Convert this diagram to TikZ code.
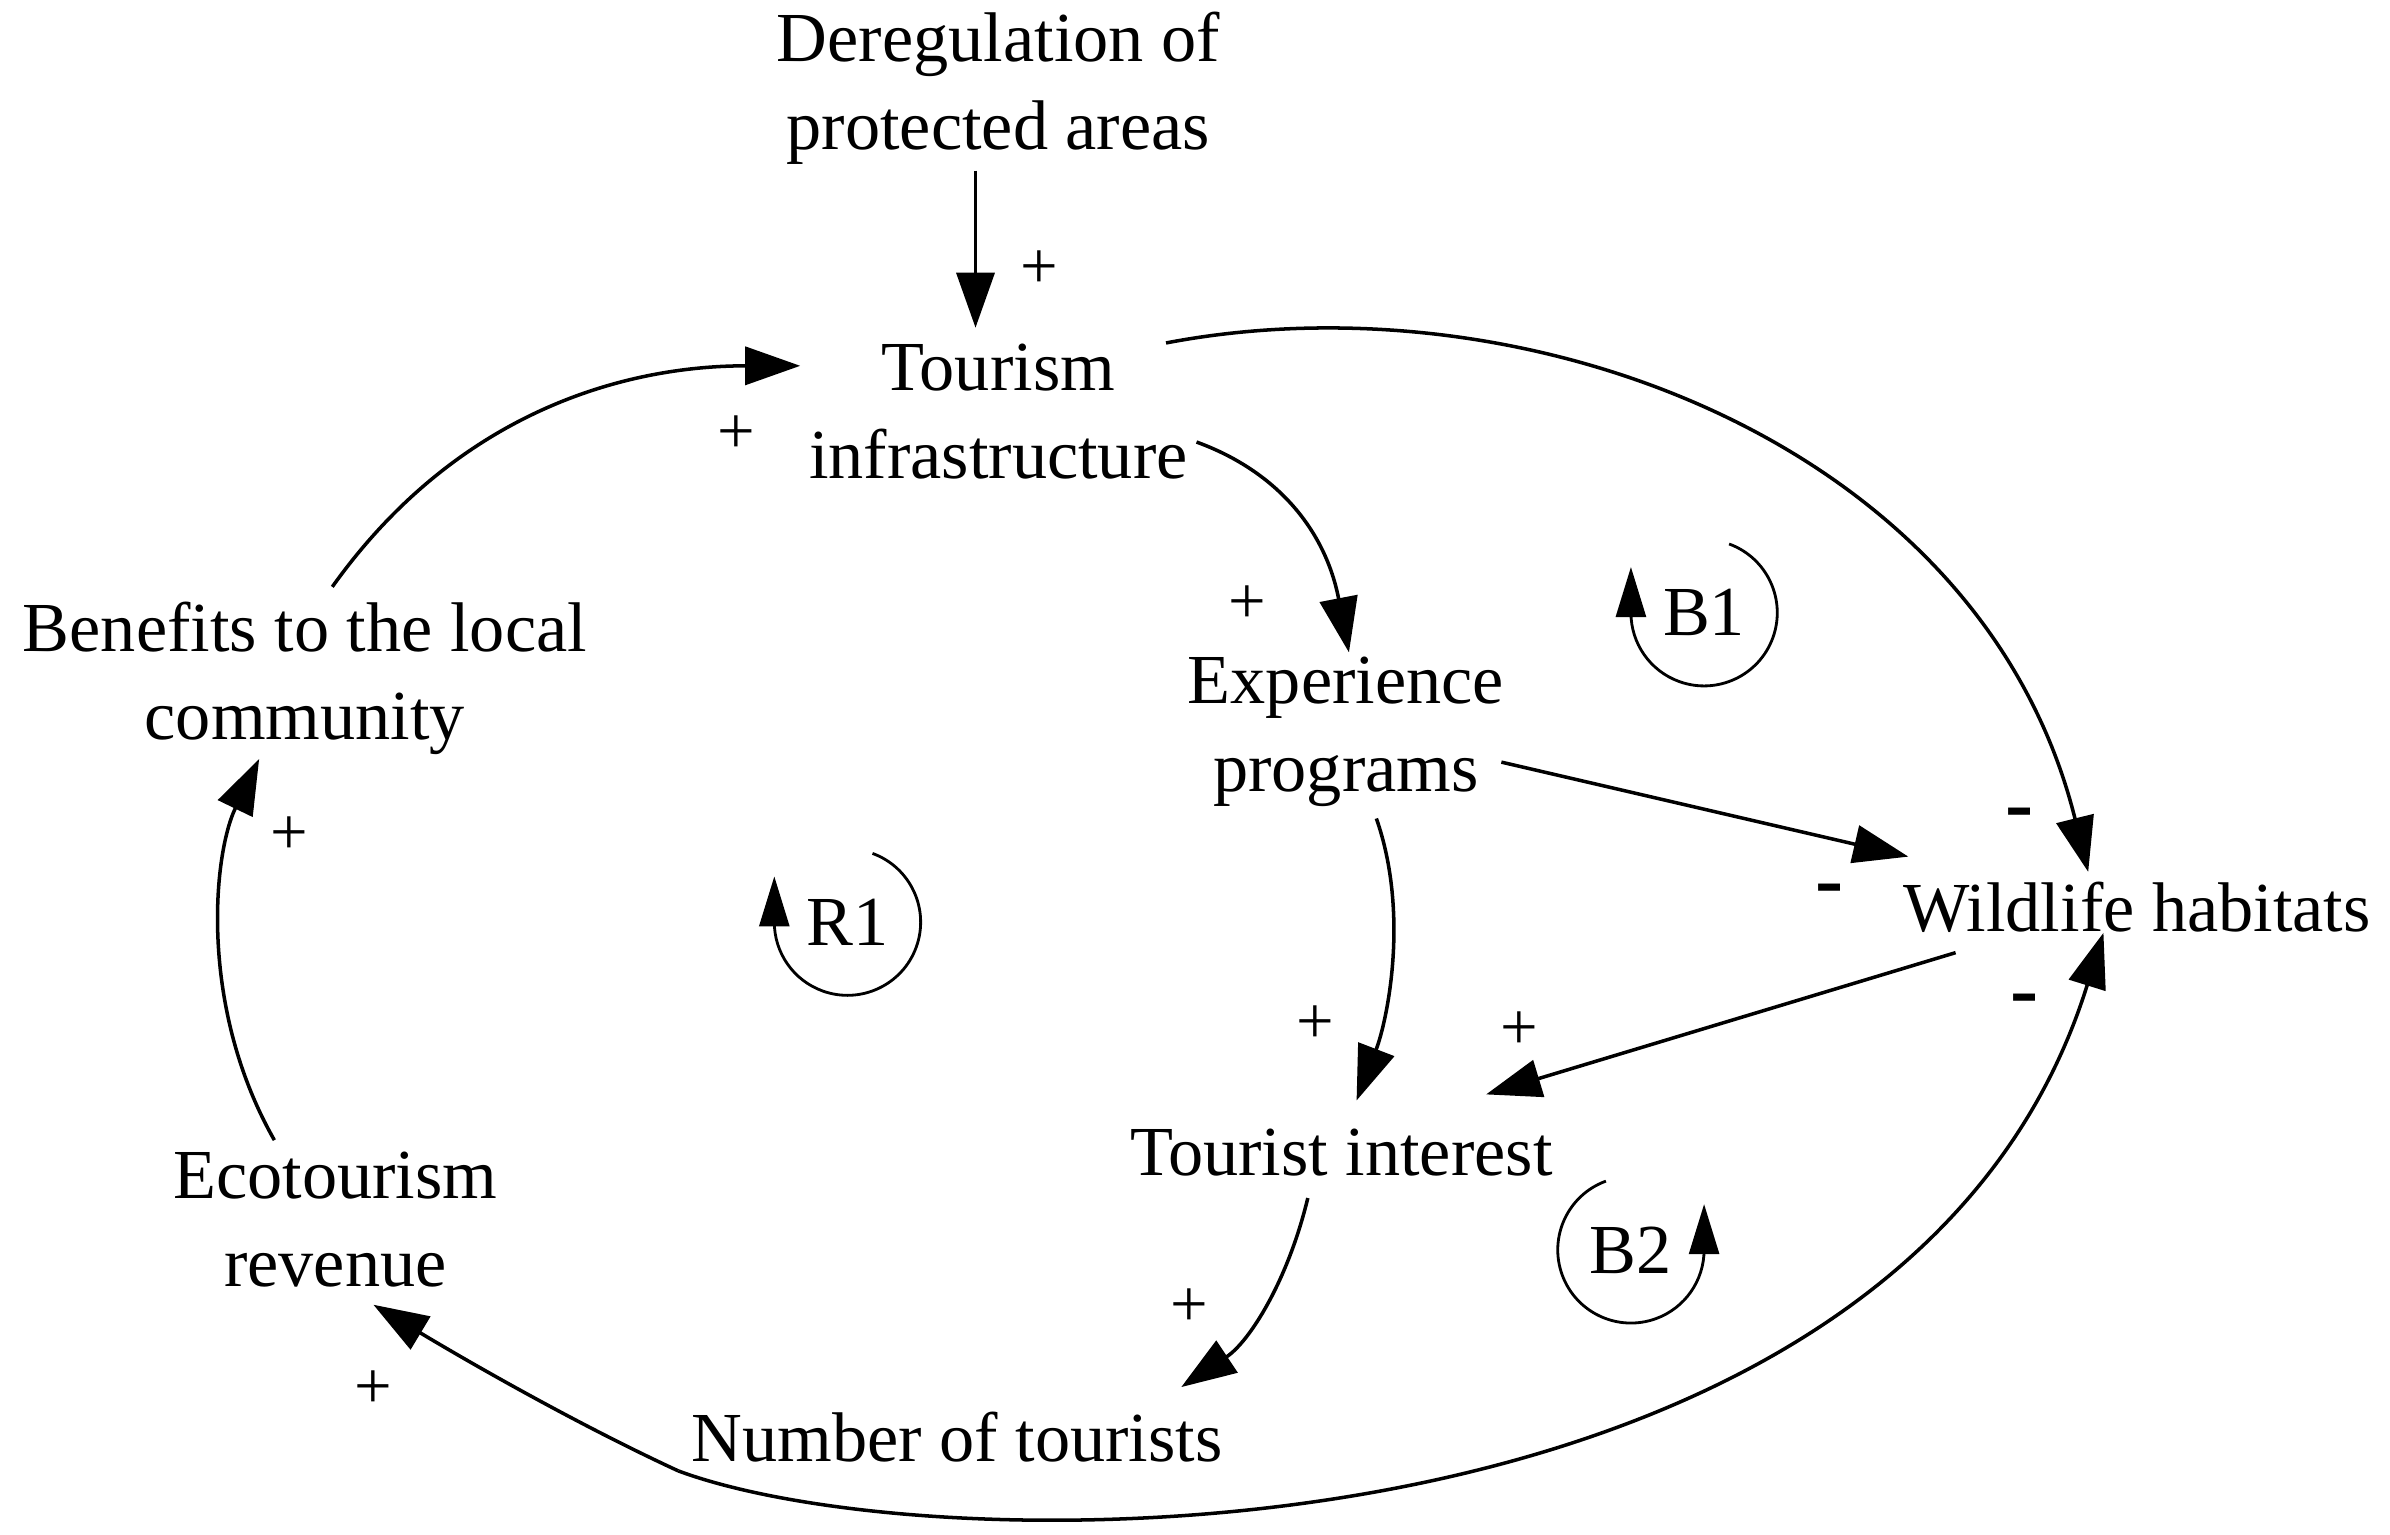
\documentclass[tikz,border=0pt]{standalone}
\usepackage{fontspec}
\setmainfont{Liberation Serif}
\usetikzlibrary{arrows.meta}
\begin{document}
\begin{tikzpicture}[x=0.01524cm,y=-0.01524cm,
    var/.style={align=center,font=\fontsize{20}{25}\selectfont},
    sgn/.style={font=\fontsize{19}{20}\selectfont},
    neg/.style={font=\fontsize{24}{24}\selectfont\bfseries},
    link/.style={line width=1pt,-{Triangle[length=0.55cm,width=0.38cm]}},
    loopar/.style={line width=0.8pt,-{Triangle[length=0.5cm,width=0.3cm]}}]

    \useasboundingbox (0,0) rectangle (1568,1007);

    % Variables
    \node[var] (dereg) at (655,58) {Deregulation of\\protected areas};
    \node[var] (infra) at (655,270) {Tourism\\infrastructure};
    \node[var] (benefit) at (200,445) {Benefits to the local\\community};
    \node[var] (exper) at (883,480) {Experience\\programs};
    \node[var] (wild) at (1402,595) {Wildlife habitats};
    \node[var] (interest) at (880,756) {Tourist interest};
    \node[var] (eco) at (220,800) {Ecotourism\\revenue};
    \node[var] (tourists) at (628,943) {Number of tourists};

    % Links
    \draw[link] (640,112) coordinate (d0) -- (640,215);
    \draw[link] (218,385) coordinate (b0) .. controls (300,270) and (410,240) .. (525,240);
    \draw[link] (180,748) coordinate (e0) .. controls (130,660) and (140,560) .. (170,498);
    \draw[link] (445,965) coordinate (t0) .. controls (380,935) and (310,895) .. (245,856);
    \draw[link] (858,786) coordinate (i0) .. controls (845,840) and (820,880) .. (775,910);
    \draw[link] (903,537) coordinate (x0) .. controls (925,600) and (910,670) .. (890,722);
    \draw[link] (785,290) coordinate (f0) .. controls (840,310) and (870,350) .. (885,428);
    \draw[link] (765,225) coordinate (f1) .. controls (1000,180) and (1300,290) .. (1370,572);
    \draw[link] (985,500) coordinate (x1) -- (1252,562);
    \draw[link] (1283,625) coordinate (w0) -- (975,718);
    \draw[link] (t0) .. controls (620,1030) and (1250,1030) .. (1380,612);

    % Polarities
    \node[sgn] at (682,177) {+};
    \node[sgn] at (483,285) {+};
    \node[sgn] at (190,548) {+};
    \node[sgn] at (245,912) {+};
    \node[sgn] at (780,858) {+};
    \node[sgn] at (863,672) {+};
    \node[sgn] at (818,397) {+};
    \node[sgn] at (997,676) {+};
    \node[neg] at (1325,538) {-};
    \node[neg] at (1200,588) {-};
    \node[neg] at (1328,660) {-};

    % Loops
    \node[var] (r1) at (556,605) {R1};
    \node[var] (b1) at (1118,402) {B1};
    \node[var] (b2) at (1070,820) {B2};
    \draw[loopar] ([shift={(-70:48)}]r1.center) arc[start angle=-70,end angle=180,radius=48] -- ++(0,-30);
    \draw[loopar] ([shift={(-70:48)}]b1.center) arc[start angle=-70,end angle=180,radius=48] -- ++(0,-30);
    \draw[loopar] ([shift={(-110:48)}]b2.center) arc[start angle=-110,end angle=-360,radius=48] -- ++(0,-30);

\end{tikzpicture}
\end{document}
